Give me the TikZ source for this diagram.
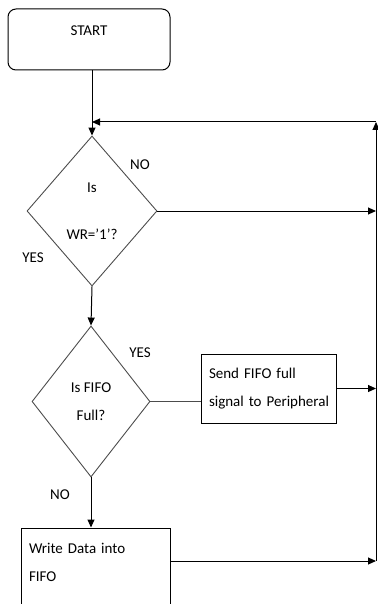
\documentclass[tikz,border=0pt]{standalone}
\usepackage{fontspec}
\setmainfont{Carlito}
\usetikzlibrary{arrows.meta,shapes.geometric}

\begin{document}
\begin{tikzpicture}[x=1pt, y=-1pt, >={Triangle[length=8pt,width=7pt]},
  every node/.style={font=\fontsize{15}{28}\selectfont},
  box/.style={draw, line width=1pt, inner ysep=0pt, inner xsep=8pt, align=left},
  decision/.style={diamond, draw=black!70, line width=0.9pt, inner sep=0pt, align=center},
  arr/.style={->, line width=1pt}]
\useasboundingbox (0,0) rectangle (377,604);

\node[box, rounded corners=8pt, align=center, minimum width=162pt, minimum height=61pt] (start) at (89,39.5) {START\\[-10pt]\mbox{}};
\node[decision, minimum width=130pt, minimum height=150pt] (wr) at (92,211) {Is\\[19pt]WR=’1’?};
\node[decision, minimum width=118pt, minimum height=151pt] (full) at (91,401.5) {Is FIFO\\Full?};
\node[box, text width=119pt, minimum height=69pt] (send) at (268.5,388.5) {Send FIFO full\\\mbox{signal to Peripheral}};
\node[box, text width=133pt, minimum height=96pt] (write) at (95.5,576) {Write Data into\\FIFO\\\mbox{}};

\node (no1) at (140,165) {NO};
\node (yes1) at (33,258) {YES};
\node (yes2) at (140,353) {YES};
\node (no2) at (60,495) {NO};

\coordinate (top) at (376,122);
\coordinate (bot) at (376,561);
\coordinate (join) at (92,122);

\draw[arr] (start.south -| wr.north) -- (wr.north);
\draw[arr] (bot) -- (top);
\draw[arr] (top) -- (join);
\draw[arr] (wr.east) -- (wr.east -| top);
\draw[arr] (wr.south) -- (full.north);
\draw[line width=1pt, black!70] (full.east) -- (full.east -| send.west);
\draw[arr] (send.east) -- (send.east -| top);
\draw[arr] (full.south) -- (full.south |- write.north);
\draw[arr] (bot -| write.east) -- (bot);
\end{tikzpicture}
\end{document}
